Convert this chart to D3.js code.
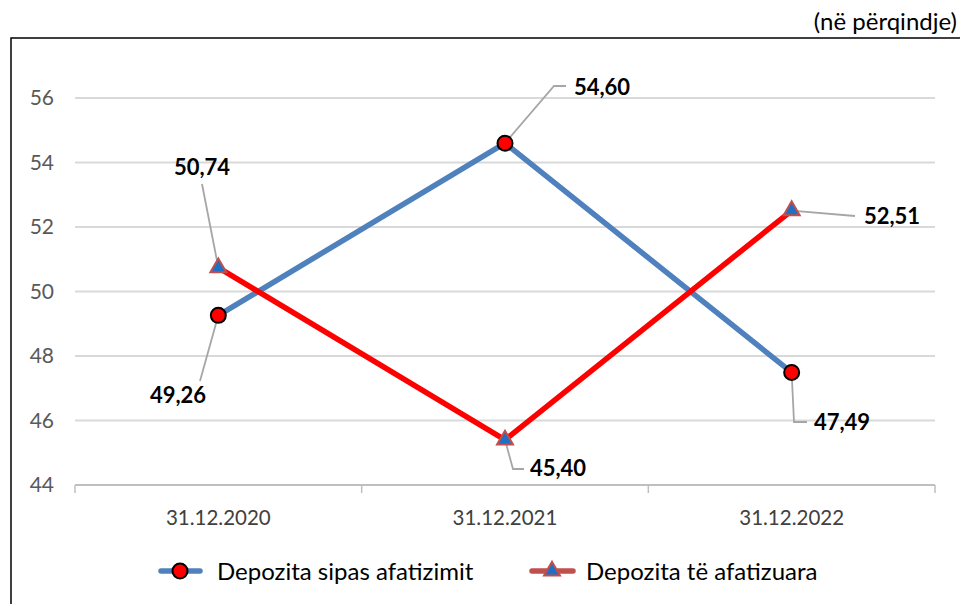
<!DOCTYPE html>
<html><head><meta charset="utf-8">
<script src="https://cdn.jsdelivr.net/npm/d3@7"></script>
<style>body{margin:0;background:#fff}svg{display:block;font-family:Lato,"Open Sans",sans-serif}</style>
</head><body><svg id="c" width="960" height="604"></svg>
<script>
const categories = ["31.12.2020","31.12.2021","31.12.2022"];
const seriesNames = ["Depozita sipas afatizimit","Depozita të afatizuara"];
const sipasAfatizimit = [49.26, 54.60, 47.49];
const teAfatizuara = [50.74, 45.40, 52.51];
const yTicks = [44,46,48,50,52,54,56];
const labelsA = ["49,26","54,60","47,49"];
const labelsB = ["50,74","45,40","52,51"];

const svg = d3.select("#c");
const L=75, R=935, B=485;
const x = d3.scaleBand().domain(categories).range([L,R]);
const y = d3.scaleLinear().domain([44,57]).range([B, B-(13/12)*(485-98)]);
// frame
svg.append("path").attr("d","M11,604 V38 H960").attr("fill","none").attr("stroke","#000").attr("stroke-width",1.5);
svg.append("text").attr("x",957).attr("y",30).attr("text-anchor","end").attr("font-size",24).attr("fill","#000").text("(në përqindje)");

// grid
svg.append("g").selectAll("line").data(yTicks).join("line")
  .attr("x1",L).attr("x2",R).attr("y1",d=>y(d)).attr("y2",d=>y(d))
  .attr("stroke",d=>d===44?"#bfbfbf":"#d9d9d9").attr("stroke-width",2);
svg.append("g").selectAll("text").data(yTicks).join("text")
  .attr("x",54).attr("y",d=>y(d)+7).attr("text-anchor","end").attr("font-size",21).attr("fill","#595959").text(d=>d);
// x ticks
const xt=[L, ...categories.slice(1).map(c=>x(c)), R];
svg.append("g").selectAll("line").data(xt).join("line")
  .attr("x1",d=>d).attr("x2",d=>d).attr("y1",B).attr("y2",B+8).attr("stroke","#bfbfbf").attr("stroke-width",1.5);
svg.append("g").selectAll("text").data(categories).join("text")
  .attr("x",d=>x(d)+x.bandwidth()/2).attr("y",525).attr("text-anchor","middle").attr("font-size",20.5).attr("fill","#404040").text(d=>d);

const cx = d=>x(d)+x.bandwidth()/2;
const line = d3.line().x((d,i)=>cx(categories[i])).y(d=>y(d));
svg.append("path").datum(sipasAfatizimit).attr("d",line).attr("fill","none").attr("stroke","#4f81bd").attr("stroke-width",5.5).attr("stroke-linejoin","round");
svg.append("path").datum(teAfatizuara).attr("d",line).attr("fill","none").attr("stroke","#ff0000").attr("stroke-width",5.5).attr("stroke-linejoin","round");

const tri = d3.symbol().type(d3.symbolTriangle).size(110);
function circleMarker(g,px,py){g.append("circle").attr("cx",px).attr("cy",py).attr("r",7.5).attr("fill","#ff0000").attr("stroke","#000").attr("stroke-width",2);}
function triMarker(g,px,py){g.append("path").attr("d",tri()).attr("transform",`translate(${px},${py})`).attr("fill","#1f6fc4").attr("stroke","#c0504d").attr("stroke-width",2);}

// leader lines & labels
const lead = svg.append("g").attr("fill","none").attr("stroke","#a6a6a6").attr("stroke-width",1.8);
const px = i=>cx(categories[i]);
const aOff = [{tx:178,ty:403,path:(p,q)=>`M${p},${q} L200,381`},
              {tx:602,ty:95,path:(p,q)=>`M${p},${q} L554,86 H566`},
              {tx:842,ty:430,path:(p,q)=>`M${p},${q} L794,422 H807`}];
const bOff = [{tx:202,ty:175,path:(p,q)=>`M${p},${q} L202,184`},
              {tx:558,ty:476,path:(p,q)=>`M${p},${q} L513,469 H524`},
              {tx:892,ty:224,path:(p,q)=>`M${p},${q} L855,216`}];
sipasAfatizimit.forEach((v,i)=>lead.append("path").attr("d",aOff[i].path(px(i),y(v))));
teAfatizuara.forEach((v,i)=>lead.append("path").attr("d",bOff[i].path(px(i),y(v))));
const mk = svg.append("g");
sipasAfatizimit.forEach((v,i)=>circleMarker(mk,px(i),y(v)));
teAfatizuara.forEach((v,i)=>triMarker(mk,px(i),y(v)));
const lab = svg.append("g").attr("font-size",22).attr("font-weight","bold").attr("fill","#000").attr("text-anchor","middle");
labelsA.forEach((t,i)=>lab.append("text").attr("x",aOff[i].tx).attr("y",aOff[i].ty).text(t));
labelsB.forEach((t,i)=>lab.append("text").attr("x",bOff[i].tx).attr("y",bOff[i].ty).text(t));

// legend
const lg = svg.append("g");
lg.append("line").attr("x1",161).attr("x2",200).attr("y1",571).attr("y2",571).attr("stroke","#4f81bd").attr("stroke-width",5.5).attr("stroke-linecap","round");
circleMarker(lg,180,571);
lg.append("text").attr("x",217).attr("y",580).attr("font-size",24).attr("fill","#000").text(seriesNames[0]);
lg.append("line").attr("x1",532).attr("x2",573).attr("y1",571).attr("y2",571).attr("stroke","#c0504d").attr("stroke-width",5.5).attr("stroke-linecap","round");
triMarker(lg,552,571);
lg.append("text").attr("x",586).attr("y",580).attr("font-size",24).attr("fill","#000").text(seriesNames[1]);
</script></body></html>
